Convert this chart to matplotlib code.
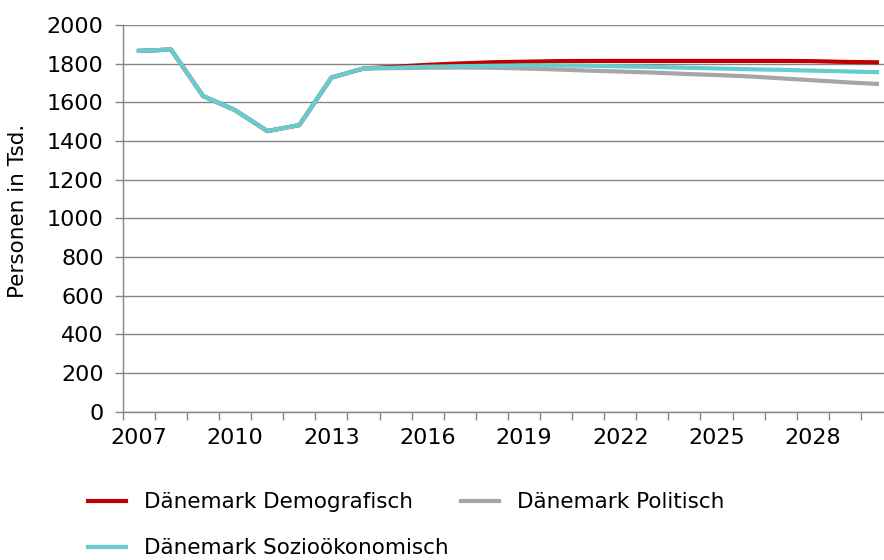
import numpy as np
import matplotlib
matplotlib.use("Agg")
import matplotlib.pyplot as plt

plt.rcParams['font.family'] = ['DejaVu Sans']

years = list(range(2007, 2031))

# Personen in Tsd.
demografisch = [1867, 1874, 1633, 1560, 1452, 1483, 1729, 1776, 1785, 1795,
                1802, 1808, 1811, 1814, 1815, 1815, 1815, 1815, 1815, 1815,
                1815, 1814, 1810, 1808]
politisch = [1867, 1874, 1633, 1560, 1452, 1483, 1729, 1776, 1778, 1780,
             1781, 1780, 1776, 1771, 1765, 1760, 1755, 1748, 1742, 1735,
             1725, 1715, 1705, 1696]
soziooekonomisch = [1867, 1874, 1633, 1560, 1452, 1483, 1729, 1776, 1780, 1785,
                    1788, 1790, 1792, 1792, 1790, 1787, 1784, 1780, 1776, 1772,
                    1769, 1765, 1761, 1757]

labels = ["Dänemark Demografisch", "Dänemark Politisch", "Dänemark Sozioökonomisch"]
colors = ["#C00000", "#A6A6A6", "#66CCCC"]

fs = 15.5
fs_ticks = 16

fig = plt.figure(figsize=(8.84, 5.6), dpi=100)
ax = fig.add_axes([0.139, 0.265, 0.861, 0.69])

x = np.arange(len(years))
l1, = ax.plot(x, demografisch, color=colors[0], lw=3, label=labels[0])
l2, = ax.plot(x, politisch, color=colors[1], lw=3, label=labels[1])
l3, = ax.plot(x, soziooekonomisch, color=colors[2], lw=3, label=labels[2])

ax.set_xlim(-0.5, 23.22)
ax.set_ylim(0, 2000)
ax.set_yticks(np.arange(0, 2001, 200))
ax.grid(axis='y', color='#868686', lw=1)
ax.set_axisbelow(True)

# Tick-Striche zwischen den Kategorien, Beschriftung nur alle 3 Jahre
ax.set_xticks(np.arange(-0.5, 23.5, 1))
ax.set_xticklabels([])
ax.set_xticks(x[::3], minor=True)
ax.set_xticklabels([str(y) for y in years[::3]], minor=True)
ax.tick_params(axis='x', which='major', length=5.8, color='#868686', width=1)
ax.tick_params(axis='x', which='minor', length=0, pad=12, labelsize=fs_ticks)
ax.tick_params(axis='y', length=5.8, color='#868686', width=1,
               labelsize=fs_ticks, pad=8)

for s in ['top', 'right']:
    ax.spines[s].set_visible(False)
for s in ['left', 'bottom']:
    ax.spines[s].set_color('#868686')
    ax.spines[s].set_linewidth(1)

ax.set_ylabel("Personen in Tsd.", fontsize=fs)
ax.yaxis.set_label_coords(-0.125, 0.52)

fig.legend([l1, l3, l2], [labels[0], labels[2], labels[1]], ncol=2,
           loc='upper left', bbox_to_anchor=(0.0995, 0.121), frameon=False,
           fontsize=fs, handlelength=1.77, handletextpad=0.84,
           columnspacing=0.56, labelspacing=1.2, borderaxespad=0, borderpad=0)

fig.savefig("out.png", dpi=100)
